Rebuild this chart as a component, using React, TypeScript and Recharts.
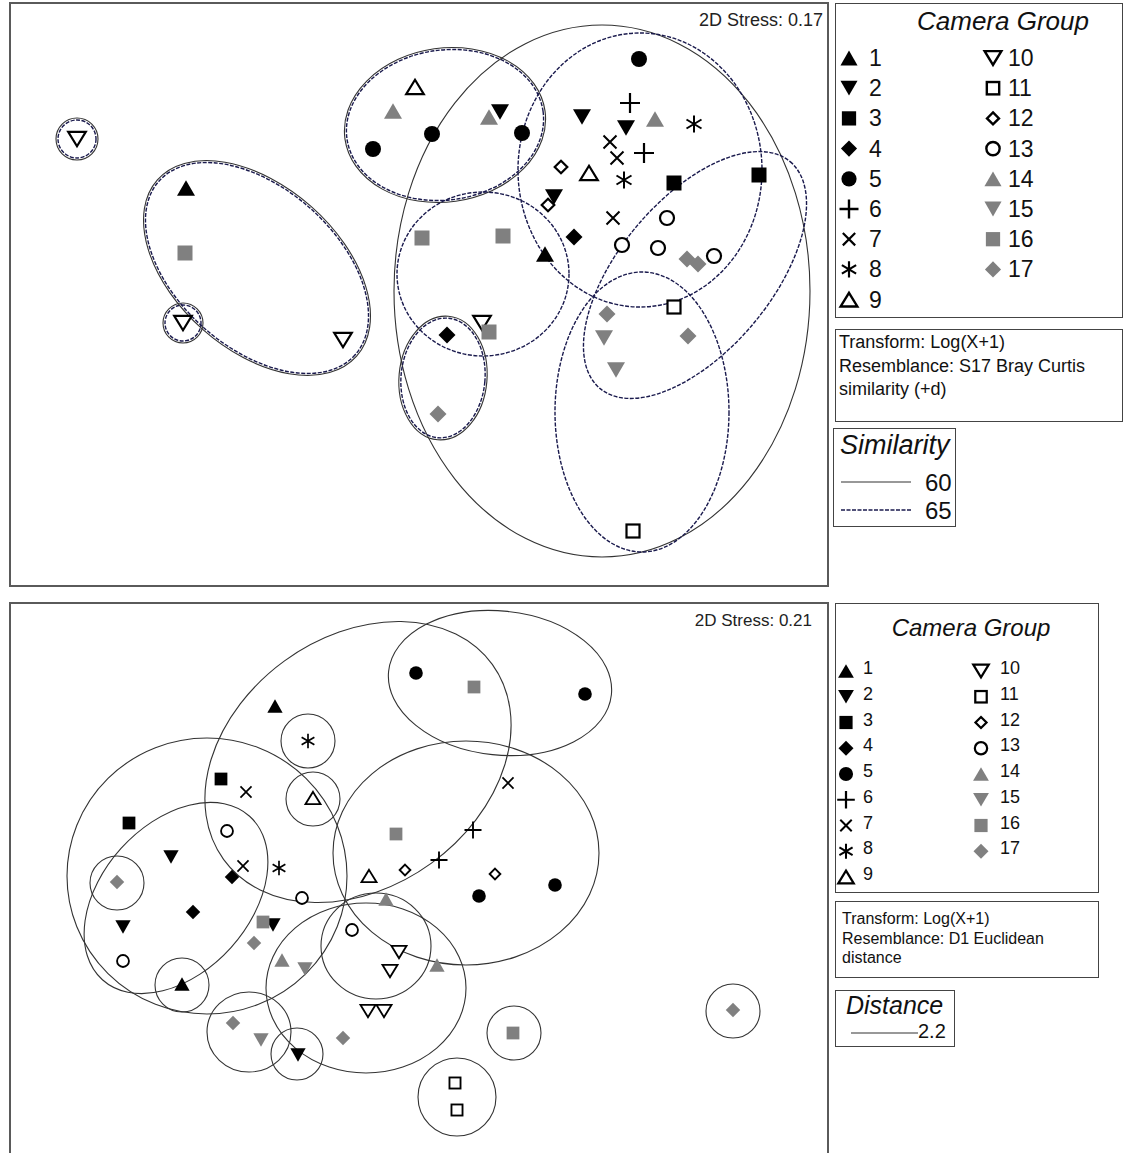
import React from "react";
import { ScatterChart, Scatter, XAxis, YAxis } from "recharts";

const FONT = "'Liberation Sans', Arial, Helvetica, sans-serif";
const GREY = "#808080";

// camera groups 1..17 (14-17 are the grey versions of the 1-4 shapes)
const groups = [1, 2, 3, 4, 5, 6, 7, 8, 9, 10, 11, 12, 13, 14, 15, 16, 17];

// top nMDS (Bray Curtis), plot units: x right, y down; [group, x, y]
const topPoints: [number, number, number][] = [
  [10, 67, 136], [10, 173, 320], [10, 333, 337], [10, 472, 320],
  [1, 176, 185], [1, 535, 251],
  [16, 175, 250], [16, 412, 235], [16, 493, 233], [16, 479, 329],
  [9, 405, 84], [9, 579, 170],
  [14, 383, 108], [14, 479, 114], [14, 645, 116],
  [5, 363, 146], [5, 422, 131], [5, 512, 130], [5, 629, 56],
  [2, 490, 109], [2, 572, 114], [2, 616, 125], [2, 544, 194],
  [6, 620, 100], [6, 634, 150],
  [8, 684, 121], [8, 614, 177],
  [7, 600, 139], [7, 607, 155], [7, 603, 215],
  [12, 551, 164], [12, 538, 202],
  [3, 664, 180], [3, 749, 172],
  [4, 564, 234], [4, 437, 332],
  [13, 657, 215], [13, 612, 242], [13, 648, 245], [13, 704, 253],
  [17, 677, 256], [17, 688, 261], [17, 597, 311], [17, 678, 333], [17, 428, 411],
  [11, 664, 304], [11, 623, 528],
  [15, 594, 335], [15, 606, 367],
];

// similarity contours: [x, y, rx, ry, angle, level]
const topEllipses: [number, number, number, number, number, string][] = [
  [67, 136, 19, 19, 0, "both"],
  [173, 320, 18, 18, 0, "both"],
  [247, 265, 131, 80, 41.5, "both"],
  [435, 122, 99, 75, -8, "both"],
  [592, 288, 208, 266, 0, "60"],
  [630, 167, 122, 137, 0, "65"],
  [685, 272, 148, 76, -50, "65"],
  [632, 409, 87, 140, 0, "65"],
  [473, 271, 86, 82, 0, "65"],
  [433, 375, 42, 60, 5, "both"],
];

// bottom nMDS (Euclidean)
const bottomPoints: [number, number, number][] = [
  [1, 265, 103], [1, 172, 381],
  [8, 298, 138], [8, 269, 265],
  [3, 211, 176], [3, 119, 220],
  [7, 236, 189], [7, 233, 263], [7, 498, 180],
  [9, 303, 195], [9, 359, 273],
  [13, 217, 228], [13, 292, 295], [13, 113, 358], [13, 342, 327],
  [16, 386, 231], [16, 464, 84], [16, 253, 319], [16, 503, 430],
  [2, 161, 254], [2, 113, 324], [2, 263, 322], [2, 288, 452],
  [4, 222, 274], [4, 183, 309],
  [5, 406, 70], [5, 575, 91], [5, 469, 293], [5, 545, 282],
  [6, 463, 227], [6, 429, 257],
  [12, 395, 267], [12, 485, 271],
  [17, 107, 279], [17, 244, 340], [17, 223, 420], [17, 333, 435], [17, 723, 407],
  [14, 376, 296], [14, 272, 357], [14, 427, 362],
  [15, 295, 366], [15, 251, 437],
  [10, 389, 349], [10, 380, 368], [10, 358, 408], [10, 374, 408],
  [11, 445, 480], [11, 447, 507],
];

// distance 2.2 contours
const bottomEllipses: [number, number, number, number, number, string][] = [
  [348, 159, 166, 125, -36, "60"],
  [490, 80, 112, 72, 6, "60"],
  [456, 250, 133, 112, 0, "60"],
  [197, 273, 140, 138, 0, "60"],
  [166, 295, 110, 74, -48, "60"],
  [356, 385, 100, 85, 0, "60"],
  [366, 343, 55, 53, 0, "60"],
  [239, 429, 42, 40, 0, "60"],
  [287, 451, 26, 26, 0, "60"],
  [298, 138, 27, 27, 0, "60"],
  [303, 196, 27, 27, 0, "60"],
  [107, 280, 27, 27, 0, "60"],
  [172, 382, 27, 27, 0, "60"],
  [504, 430, 27, 27, 0, "60"],
  [723, 408, 27, 27, 0, "60"],
  [447, 494, 39, 39, 0, "60"],
];

function Marker({ g, cx, cy, k, sk = 1 }: { g: number; cx: number; cy: number; k: number; sk?: number }) {
  const fill = g >= 14 ? GREY : "#000";
  const sw = 2.2 * k * sk;
  switch (g) {
    case 1:
    case 14: {
      const w = 9 * k, h = 7.8 * k;
      return <polygon points={`${cx},${cy - h} ${cx + w},${cy + h} ${cx - w},${cy + h}`} fill={fill} />;
    }
    case 2:
    case 15: {
      const w = 9 * k, h = 7.8 * k;
      return <polygon points={`${cx - w},${cy - h} ${cx + w},${cy - h} ${cx},${cy + h}`} fill={fill} />;
    }
    case 3:
    case 16: {
      const a = 7.5 * k;
      return <rect x={cx - a} y={cy - a} width={2 * a} height={2 * a} fill={fill} />;
    }
    case 4:
    case 17: {
      const a = 8.5 * k;
      return <polygon points={`${cx},${cy - a} ${cx + a},${cy} ${cx},${cy + a} ${cx - a},${cy}`} fill={fill} />;
    }
    case 5:
      return <circle cx={cx} cy={cy} r={8 * k} fill="#000" />;
    case 6: {
      const a = 10 * k;
      return <path d={`M${cx - a} ${cy}H${cx + a}M${cx} ${cy - a}V${cy + a}`} stroke="#000" strokeWidth={sw} fill="none" />;
    }
    case 7: {
      const a = 6.5 * k;
      return <path d={`M${cx - a} ${cy - a}L${cx + a} ${cy + a}M${cx + a} ${cy - a}L${cx - a} ${cy + a}`} stroke="#000" strokeWidth={2 * k * sk} fill="none" />;
    }
    case 8: {
      const a = 8.5 * k, dx = 7.5 * k, dy = 4.5 * k;
      return (
        <path
          d={`M${cx} ${cy - a}V${cy + a}M${cx - dx} ${cy - dy}L${cx + dx} ${cy + dy}M${cx + dx} ${cy - dy}L${cx - dx} ${cy + dy}`}
          stroke="#000"
          strokeWidth={2 * k * sk}
          fill="none"
        />
      );
    }
    case 9: {
      const w = 8.8 * k, h = 7.2 * k;
      return <polygon points={`${cx},${cy - h} ${cx + w},${cy + h} ${cx - w},${cy + h}`} fill="#fff" stroke="#000" strokeWidth={sw} />;
    }
    case 10: {
      const w = 8.8 * k, h = 7.2 * k;
      return <polygon points={`${cx - w},${cy - h} ${cx + w},${cy - h} ${cx},${cy + h}`} fill="#fff" stroke="#000" strokeWidth={sw} />;
    }
    case 11: {
      const a = 6.5 * k;
      return <rect x={cx - a} y={cy - a} width={2 * a} height={2 * a} fill="#fff" stroke="#000" strokeWidth={sw} />;
    }
    case 12: {
      const a = 6.3 * k;
      return <polygon points={`${cx},${cy - a} ${cx + a},${cy} ${cx},${cy + a} ${cx - a},${cy}`} fill="#fff" stroke="#000" strokeWidth={sw} />;
    }
    case 13:
      return <circle cx={cx} cy={cy} r={7 * k} fill="#fff" stroke="#000" strokeWidth={sw} />;
    default:
      return null;
  }
}

function Plot({ points, ellipses, w, h, k }: any) {
  const xDom = [0, w];
  const yDom = [0, h];
  const kx = w / (xDom[1] - xDom[0]);
  const ky = h / (yDom[1] - yDom[0]);
  const ellData = ellipses.map(([x, y, rx, ry, angle, level]: any) => ({ x, y, rx, ry, angle, level }));

  const ellipseShape = (p: any) => {
    const { cx, cy, payload } = p;
    const rx = payload.rx * kx;
    const ry = payload.ry * ky;
    const tr = `rotate(${payload.angle} ${cx} ${cy})`;
    const both = payload.level === "both";
    return (
      <g>
        {payload.level !== "65" && (
          <ellipse cx={cx} cy={cy} rx={rx + (both ? 2 : 0)} ry={ry + (both ? 2 : 0)} transform={tr} fill="none" stroke="#333" strokeWidth={1.1} />
        )}
        {payload.level !== "60" && (
          <ellipse cx={cx} cy={cy} rx={rx} ry={ry} transform={tr} fill="none" stroke="#1a1a4d" strokeWidth={1.4} strokeDasharray="4 1.5" />
        )}
      </g>
    );
  };

  return (
    <ScatterChart width={w} height={h} margin={{ top: 0, right: 0, bottom: 0, left: 0 }}>
      <XAxis type="number" dataKey="x" domain={xDom} hide />
      <YAxis type="number" dataKey="y" domain={yDom} reversed hide />
      <Scatter data={ellData} shape={ellipseShape} isAnimationActive={false} />
      {groups.map((g) => (
        <Scatter
          key={g}
          data={points.filter((p: any) => p[0] === g).map(([gg, x, y]: any) => ({ x, y, g: gg }))}
          shape={(p: any) => <Marker g={g} cx={p.cx} cy={p.cy} k={k} />}
          isAnimationActive={false}
        />
      ))}
    </ScatterChart>
  );
}

function GroupLegend({ left, top, width, height, k, titleSize, titleX, titleY, s1, t1, s2, t2, row0, step, fontSize, textDy }: any) {
  return (
    <div style={{ position: "absolute", left, top, width, height, border: "1.5px solid #444", boxSizing: "border-box" }}>
      <svg width={width} height={height} style={{ position: "absolute", left: -1.5, top: -1.5 }}>
        <text x={titleX} y={titleY} textAnchor="middle" dominantBaseline="central" fontStyle="italic" fontSize={titleSize} fontFamily={FONT} fill="#111">
          Camera Group
        </text>
        {groups.map((g, i) => {
          const col2 = g >= 10;
          const row = col2 ? i - 9 : i;
          const y = row0 + row * step;
          return (
            <g key={g}>
              <Marker g={g} cx={col2 ? s2 : s1} cy={y} k={k} sk={1.15} />
              <text x={col2 ? t2 : t1} y={y + textDy} dominantBaseline="central" fontSize={fontSize} fontFamily={FONT} fill="#111">
                {String(g)}
              </text>
            </g>
          );
        })}
      </svg>
    </div>
  );
}

const boxStyle: any = { position: "absolute", border: "1.5px solid #444", boxSizing: "border-box", fontFamily: FONT, color: "#111" };

export default function App() {
  return (
    <div style={{ position: "absolute", left: 0, top: 0, width: 1123, height: 1153, overflow: "hidden", background: "#fff", fontFamily: FONT }}>
      {/* top panel */}
      <div style={{ position: "absolute", left: 10, top: 3 }}>
        <Plot points={topPoints} ellipses={topEllipses} w={818} h={583} k={1} />
      </div>
      <div style={{ position: "absolute", left: 9, top: 2, width: 820, height: 585, border: "2px solid #5a5a5a", boxSizing: "border-box", pointerEvents: "none" }} />
      <div style={{ position: "absolute", right: 300, top: 11, fontSize: 18, lineHeight: "18px", color: "#222" }}>2D Stress: 0.17</div>

      <GroupLegend left={835} top={3} width={288} height={315} k={0.95} titleSize={26} titleX={168} titleY={18}
        s1={14} t1={34} s2={158} t2={173} row0={55} step={30.2} fontSize={23} textDy={0} />

      <div style={{ ...boxStyle, left: 835, top: 329, width: 288, height: 93, fontSize: 18, lineHeight: "24px", padding: "0 0 0 3px" }}>
        <div>Transform: Log(X+1)</div>
        <div>Resemblance: S17 Bray Curtis</div>
        <div style={{ marginTop: -1 }}>similarity (+d)</div>
      </div>

      <div style={{ ...boxStyle, left: 833, top: 428, width: 123, height: 99 }}>
        <svg width={123} height={99} style={{ position: "absolute", left: -1.5, top: -1.5 }}>
          <text x={7} y={17} dominantBaseline="central" fontStyle="italic" fontSize={27} fontFamily={FONT} fill="#111">Similarity</text>
          <line x1={8} x2={78} y1={54} y2={54} stroke="#333" strokeWidth={1.1} />
          <text x={92} y={54} dominantBaseline="central" fontSize={24} fontFamily={FONT} fill="#111">60</text>
          <line x1={8} x2={78} y1={82} y2={82} stroke="#1a1a4d" strokeWidth={1.4} strokeDasharray="4 1.5" />
          <text x={92} y={82} dominantBaseline="central" fontSize={24} fontFamily={FONT} fill="#111">65</text>
        </svg>
      </div>

      {/* bottom panel */}
      <div style={{ position: "absolute", left: 10, top: 603 }}>
        <Plot points={bottomPoints} ellipses={bottomEllipses} w={818} h={560} k={0.85} />
      </div>
      <div style={{ position: "absolute", left: 9, top: 602, width: 820, height: 570, border: "2px solid #5a5a5a", boxSizing: "border-box", pointerEvents: "none" }} />
      <div style={{ position: "absolute", right: 311, top: 612, fontSize: 17, lineHeight: "17px", color: "#222" }}>2D Stress: 0.21</div>

      <GroupLegend left={835} top={603} width={264} height={290} k={0.88} titleSize={24} titleX={136} titleY={24}
        s1={11} t1={28} s2={146} t2={165} row0={68} step={25.75} fontSize={18} textDy={-3} />

      <div style={{ ...boxStyle, left: 835, top: 901, width: 264, height: 77, fontSize: 16, lineHeight: "19.5px", padding: "7px 0 0 6px" }}>
        <div>Transform: Log(X+1)</div>
        <div>Resemblance: D1 Euclidean</div>
        <div>distance</div>
      </div>

      <div style={{ ...boxStyle, left: 835, top: 990, width: 120, height: 57 }}>
        <svg width={120} height={57} style={{ position: "absolute", left: -1.5, top: -1.5 }}>
          <text x={11} y={15} dominantBaseline="central" fontStyle="italic" fontSize={25} fontFamily={FONT} fill="#111">Distance</text>
          <line x1={16} x2={83} y1={43} y2={43} stroke="#333" strokeWidth={1.1} />
          <text x={83} y={41} dominantBaseline="central" fontSize={20} fontFamily={FONT} fill="#111">2.2</text>
        </svg>
      </div>
    </div>
  );
}
